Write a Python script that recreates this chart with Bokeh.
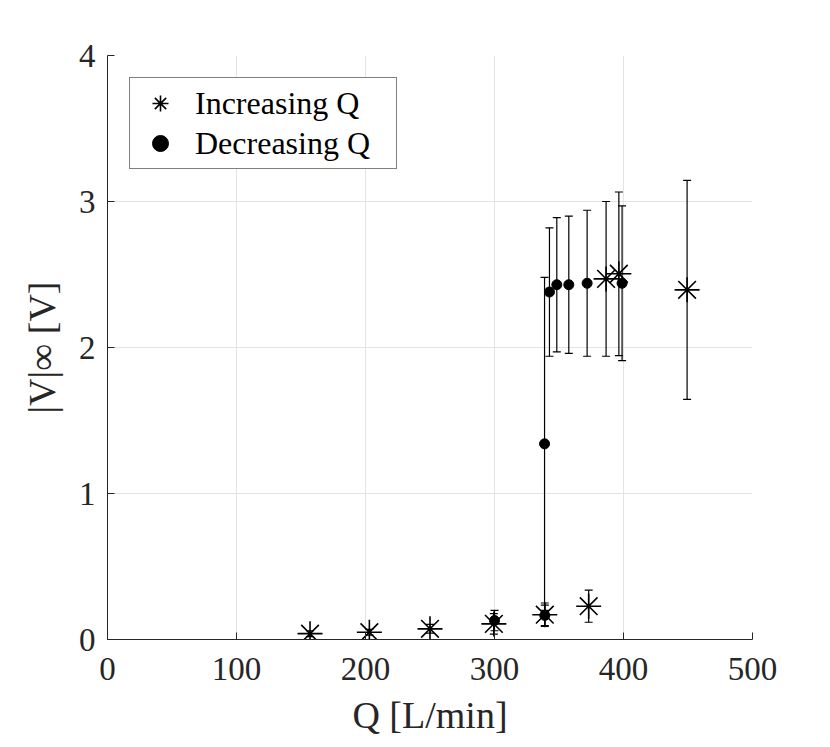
from bokeh.plotting import figure
from bokeh.models import ColumnDataSource, Whisker, TeeHead, Range1d, FixedTicker, Legend, LegendItem
from bokeh.embed import file_html
from bokeh.resources import INLINE

# Increasing Q
inc_q = [157, 203, 250, 299.5, 339, 373, 386.5, 396.4, 449.3]
inc_v = [0.04, 0.05, 0.073, 0.107, 0.17, 0.228, 2.47, 2.505, 2.395]
inc_err = [0.02, 0.02, 0.03, 0.07, 0.08, 0.11, 0.53, 0.56, 0.75]

# Decreasing Q
dec_q = [300, 339, 338.8, 342.6, 348.3, 357.6, 371.8, 398.9]
dec_v = [0.13, 0.165, 1.34, 2.38, 2.43, 2.43, 2.44, 2.44]
dec_err = [0.07, 0.07, 1.14, 0.44, 0.46, 0.47, 0.5, 0.53]

x_ticks = [0, 100, 200, 300, 400, 500]
y_ticks = [0, 1, 2, 3, 4]

FONT = "Liberation Serif"
TXT = "#262626"

p = figure(width=812, height=742, output_backend="svg", toolbar_location=None,
           x_range=Range1d(0, 500), y_range=Range1d(0, 4),
           frame_width=645, frame_height=584,
           min_border_left=107, min_border_top=55, min_border_right=60, min_border_bottom=103)
p.outline_line_color = None
p.background_fill_color = "white"

for ax in (p.xaxis[0], p.yaxis[0]):
    ax.major_label_text_font = FONT
    ax.major_label_text_font_size = "33px"
    ax.major_label_text_color = TXT
    ax.axis_label_text_font = FONT
    ax.axis_label_text_font_size = "38px"
    ax.axis_label_text_font_style = "normal"
    ax.axis_label_text_color = TXT
    ax.axis_line_color = TXT
    ax.major_tick_line_color = TXT
    ax.major_tick_in = 7
    ax.major_tick_out = 0
    ax.minor_tick_line_color = None

p.xaxis.ticker = FixedTicker(ticks=x_ticks)
p.yaxis.ticker = FixedTicker(ticks=y_ticks)
p.xaxis.axis_label = "Q [L/min]"
p.yaxis.axis_label = "|V|∞ [V]"
p.xaxis.major_label_standoff = 18
p.yaxis.major_label_standoff = 12
p.xaxis.axis_label_standoff = 11
p.yaxis.axis_label_standoff = 13

p.xgrid.grid_line_color = "#e3e3e3"
p.ygrid.grid_line_color = "#e3e3e3"

src_inc = ColumnDataSource(dict(
    x=inc_q, y=inc_v,
    lo=[v - e for v, e in zip(inc_v, inc_err)],
    hi=[v + e for v, e in zip(inc_v, inc_err)]))
src_dec = ColumnDataSource(dict(
    x=dec_q, y=dec_v,
    lo=[v - e for v, e in zip(dec_v, dec_err)],
    hi=[v + e for v, e in zip(dec_v, dec_err)]))

for src in (src_inc, src_dec):
    w = Whisker(source=src, base="x", lower="lo", upper="hi", dimension="height",
                line_color="black", line_width=1.2,
                upper_head=TeeHead(size=8, line_color="black", line_width=1.2),
                lower_head=TeeHead(size=8, line_color="black", line_width=1.2))
    p.add_layout(w)

r_inc = p.scatter("x", "y", source=src_inc, marker="asterisk", size=25,
                  line_color="black", line_width=1.6)
r_dec = p.scatter("x", "y", source=src_dec, marker="circle", size=10,
                  fill_color="black", line_color="black")

legend = Legend(items=[LegendItem(label="Increasing Q", renderers=[r_inc]),
                       LegendItem(label="Decreasing Q", renderers=[r_dec])],
                location="top_left", margin=22,
                label_text_font=FONT, label_text_font_size="32px", label_text_color="black",
                border_line_color="black", border_line_width=1,
                background_fill_alpha=1, padding=5, spacing=0,
                glyph_width=50, glyph_height=40, label_standoff=10, label_height=40,
                label_width=196)
p.add_layout(legend)

open("out.html", "w").write(file_html(p, INLINE))
